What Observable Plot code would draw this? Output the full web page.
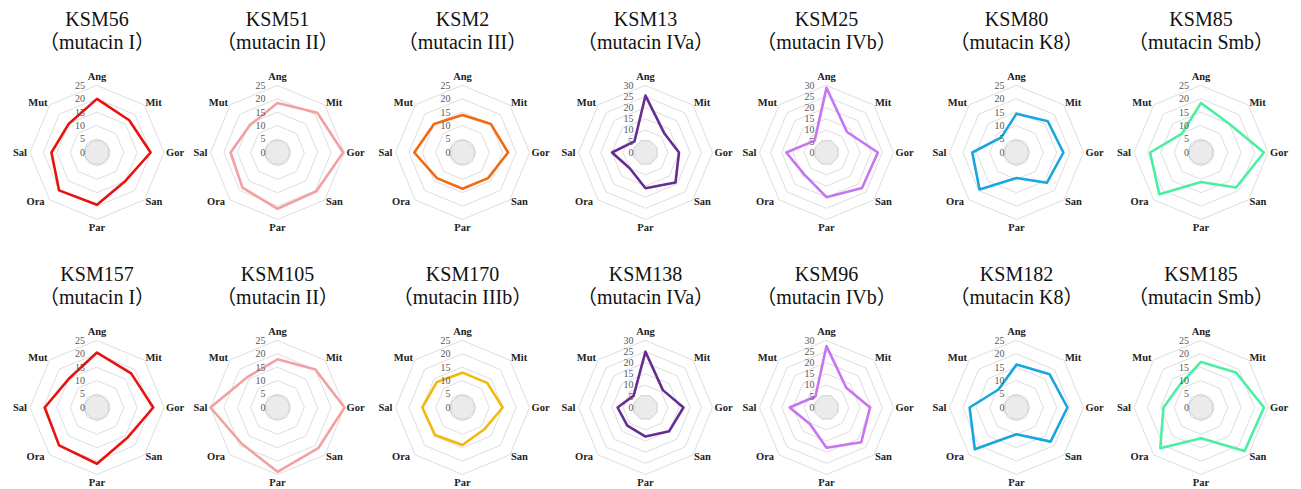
<!DOCTYPE html>
<html>
<head>
<meta charset="utf-8">
<script src="https://cdn.jsdelivr.net/npm/d3@7"></script>
<script src="https://cdn.jsdelivr.net/npm/@observablehq/plot@0.6"></script>
<style>
  html, body { margin: 0; padding: 0; background: #fff; }
  #chart svg { display: block; }
</style>
</head>
<body>
<div id="chart"></div>
<script>
// ---- data ----
const axesNames = ["Ang", "Mit", "Gor", "San", "Par", "Ora", "Sal", "Mut"];
const strains = ["KSM56", "KSM51", "KSM2", "KSM13", "KSM25", "KSM80", "KSM85",
                 "KSM157", "KSM105", "KSM170", "KSM138", "KSM96", "KSM182", "KSM185"];
const mutacins = ["mutacin I", "mutacin II", "mutacin III", "mutacin IVa", "mutacin IVb", "mutacin K8", "mutacin Smb",
                  "mutacin I", "mutacin II", "mutacin IIIb", "mutacin IVa", "mutacin IVb", "mutacin K8", "mutacin Smb"];
const axisMax = [25, 25, 25, 30, 30, 25, 25, 25, 25, 25, 30, 30, 25, 25];
const tickStep = 5;
// values in order Ang, Mit, Gor, San, Par, Ora, Sal, Mut
const values = [
  [20, 17, 20, 15, 19.5, 20, 17, 15],          // KSM56
  [18.5, 21, 24.5, 20.5, 21, 18.5, 17.5, 14.5],// KSM51
  [14, 15, 17, 13.5, 13.5, 13.5, 18, 15],      // KSM2
  [25.5, 12, 15, 19, 16, 10, 15, 7],           // KSM13
  [29, 13, 23, 22.5, 20, 14, 18, 7.5],         // KSM25
  [14.5, 16.5, 17.5, 16, 9.5, 19.5, 16.5, 8],  // KSM80
  [18.5, 15, 23.5, 18.5, 11, 22, 19, 10],      // KSM85
  [20.5, 18, 21, 16, 21, 20, 19.5, 15],        // KSM157
  [18, 20, 25, 21.5, 24, 19, 25, 16],          // KSM105
  [13, 13, 15, 11.5, 14, 14.5, 15, 13.5],      // KSM170
  [25, 11, 17, 15, 13, 11.5, 12.5, 7.5],       // KSM138
  [27.5, 12.5, 19.5, 22, 18, 10.5, 16.5, 7],   // KSM96
  [16, 17.5, 19, 18, 10, 22, 17.5, 9.5],       // KSM182
  [17, 18.5, 23.5, 23, 11.5, 21.5, 14, 11.5]   // KSM185
];
const colorDomain = ["mutacin I", "mutacin II", "mutacin III", "mutacin IIIb", "mutacin IVa", "mutacin IVb", "mutacin K8", "mutacin Smb"];
const colorRange  = ["#e8120f", "#f3a0a0", "#f26a10", "#f2b90c", "#662d91", "#c674f2", "#17a6e2", "#4af0a0"];

// ---- layout ----
const W = 1301, H = 489;
const layout = {
  colX: [96.5, 277, 462, 645, 826, 1016, 1200.5],
  rowY: [152, 407],
  R: 67,
  hole: 12.5,
  title1: 25, title2: 48,
  labelOffset: [[0, -9], [1, -2], [2, 0], [1, 2], [0, 8], [-5, 2], [-3, 0], [-2, -2]],
  labelAnchor: ["middle", "start", "start", "start", "middle", "end", "end", "end"]
};
const serif = "\"Liberation Serif\", \"DejaVu Serif\", serif";
const serifCJK = "\"Liberation Serif\", \"Noto Sans CJK SC\", serif";

function center(i) { return [layout.colX[i % 7], layout.rowY[Math.floor(i / 7)]]; }
function polar(i, j, r, rot = 0) {
  const [cx, cy] = center(i);
  const a = j * Math.PI / 4 + rot;
  return {x: cx + r * Math.sin(a), y: -(cy - r * Math.cos(a))};
}

// series points
const seriesRows = [];
strains.forEach((s, i) => values[i].forEach((v, j) => {
  const p = polar(i, j, v / axisMax[i] * layout.R);
  seriesRows.push({strain: s, mutacin: mutacins[i], axis: axesNames[j], value: v, ...p});
}));

// grid rings
const ringRows = [];
strains.forEach((s, i) => {
  for (let t = tickStep; t <= axisMax[i]; t += tickStep) {
    axesNames.forEach((a, j) => ringRows.push({key: s + "-" + t, ...polar(i, j, t / axisMax[i] * layout.R)}));
  }
});

// grey centre octagon
const holeRows = [];
strains.forEach((s, i) => axesNames.forEach((a, j) =>
  holeRows.push({key: s, ...polar(i, j, layout.hole, Math.PI / 8)})));

// tick labels
const tickRows = [];
strains.forEach((s, i) => {
  const [cx, cy] = center(i);
  for (let t = 0; t <= axisMax[i]; t += tickStep) {
    tickRows.push({label: String(t), x: cx - 12, y: -(cy - t / axisMax[i] * layout.R)});
  }
});

// axis labels
const labelRows = [];
strains.forEach((s, i) => axesNames.forEach((a, j) => {
  const p = polar(i, j, layout.R);
  labelRows.push({label: a, anchor: layout.labelAnchor[j], x: p.x + layout.labelOffset[j][0], y: p.y - layout.labelOffset[j][1]});
}));

// titles
const titleRows = strains.map((s, i) => {
  const [cx, cy] = center(i);
  const row = Math.floor(i / 7);
  return {name: s, sub: "（" + mutacins[i] + "）", x: cx,
          y1: -(layout.title1 + row * 255), y2: -(layout.title2 + row * 255)};
});

const labelMarks = ["start", "middle", "end"].map(anchor =>
  Plot.text(labelRows.filter(d => d.anchor === anchor), {
    x: "x", y: "y", text: "label", textAnchor: anchor, lineAnchor: "middle",
    fontFamily: serif, fontWeight: "bold", fontSize: 10.5, fill: "#222"
  }));

const chart = Plot.plot({
  width: W, height: H,
  marginTop: 0, marginRight: 0, marginBottom: 0, marginLeft: 0,
  x: {domain: [0, W], range: [0, W], axis: null},
  y: {domain: [-H, 0], range: [H, 0], axis: null},
  color: {type: "ordinal", domain: colorDomain, range: colorRange},
  style: {background: "#fff", fontFamily: serif},
  marks: [
    Plot.line(ringRows, {x: "x", y: "y", z: "key", curve: "linear-closed", stroke: "#d9d9d9", strokeWidth: 0.9}),
    Plot.line(holeRows, {x: "x", y: "y", z: "key", curve: "linear-closed", fill: "#ebebeb", stroke: "#c4c4c4", strokeWidth: 0.8}),
    Plot.line(seriesRows, {x: "x", y: "y", z: "strain", stroke: "mutacin", curve: "linear-closed",
                           strokeWidth: 2.6, strokeLinejoin: "round"}),
    Plot.text(tickRows, {x: "x", y: "y", text: "label", textAnchor: "end", lineAnchor: "middle",
                         fontFamily: serif, fontSize: 10, fill: "#595959"}),
    ...labelMarks,
    Plot.text(titleRows, {x: "x", y: "y1", text: "name", textAnchor: "middle", lineAnchor: "bottom",
                          fontFamily: serif, fontSize: 20, fill: "#111"}),
    Plot.text(titleRows, {x: "x", y: "y2", text: "sub", textAnchor: "middle", lineAnchor: "bottom",
                          fontFamily: serifCJK, fontSize: 20, fill: "#111"})
  ]
});
document.getElementById("chart").appendChild(chart);
</script>
</body>
</html>
